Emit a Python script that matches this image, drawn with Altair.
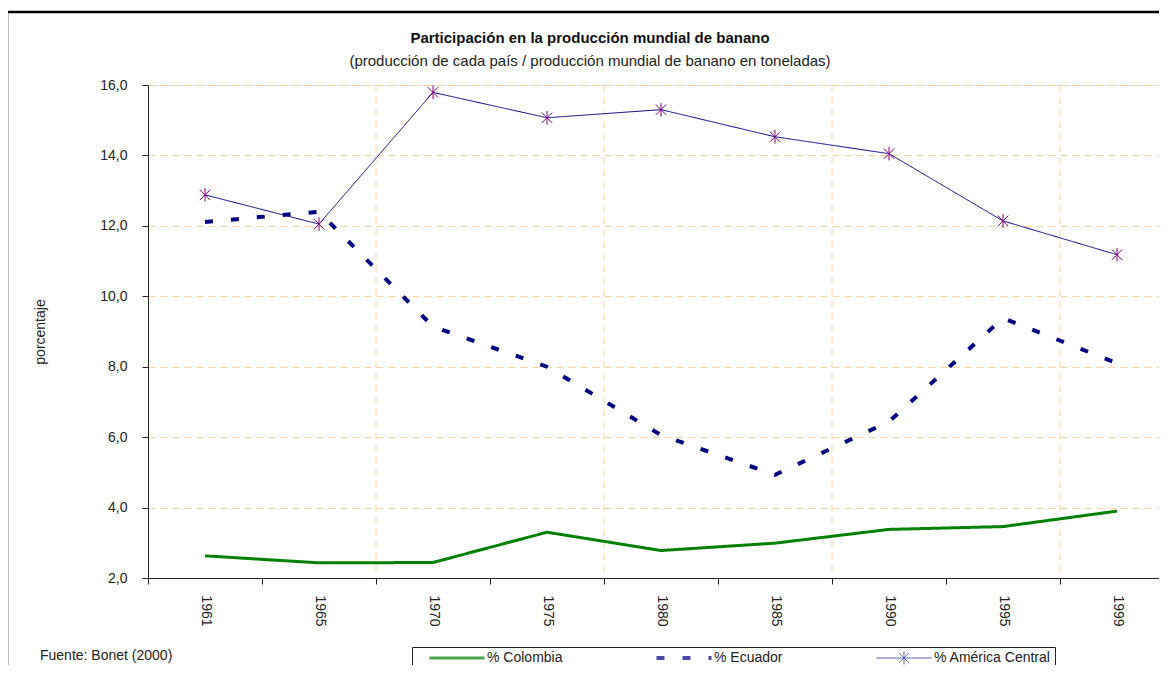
import altair as alt
import pandas as pd

years = ["1961", "1965", "1970", "1975", "1980", "1985", "1990", "1995", "1999"]
colombia = [2.63, 2.43, 2.44, 3.30, 2.78, 2.99, 3.38, 3.46, 3.90]
ecuador = [12.11, 12.40, 9.14, 8.00, 6.06, 4.93, 6.44, 9.38, 8.10]
america_central = [12.88, 12.05, 15.79, 15.07, 15.30, 14.53, 14.05, 12.14, 11.18]

series_names = ["% Colombia", "% Ecuador", "% América Central"]
series_colors = ["#008000", "#000080", "#000080"]
series_dash = [[1, 0], [8, 18], [1, 0]]
series_width = [3, 4, 1]
grid_years = ["1965", "1975", "1985", "1995"]
y_ticks = [2, 4, 6, 8, 10, 12, 14, 16]

title_text = "Participación en la producción  mundial de banano"
subtitle_text = "(producción de cada país / producción mundial de banano en toneladas)"
source_text = "Fuente: Bonet (2000)"

rows = []
for name, vals in zip(series_names, [colombia, ecuador, america_central]):
    for yr, v in zip(years, vals):
        rows.append({"año": yr, "serie": name, "valor": v})
df = pd.DataFrame(rows)

FONT = "Liberation Sans"
STAR = "M-1,-1L1,1M-1,1L1,-1M0,-1.3L0,1.3"
LEG_LINE = "M-5.5,0L5.5,0"
LEG_STAR = "M-5.5,0L5.5,0M-1,-1L1,1M-1,1L1,-1M0,-1.3L0,1.3"
series_shapes = [LEG_LINE, LEG_LINE, LEG_STAR]

x_scale = alt.Scale(domain=years, range=[0, 1026], paddingInner=0, paddingOuter=0)
y_scale = alt.Scale(domain=[2, 16], nice=False, zero=False)

legend = alt.Legend(
    title=None,
    orient="none",
    legendX=264,
    legendY=562,
    direction="horizontal",
    strokeColor="#222222",
    fillColor="white",
    padding=4,
    symbolSize=100,
    symbolOffset=34,
    labelFont=FONT,
    labelFontSize=14,
    labelColor="#222222",
    labelOffset=23,
    columnPadding=80,
    gridAlign="none",
)

base = alt.Chart(df)

frame = alt.Chart(alt.Data(values=[{"a": 1}])).mark_rect(
    fill=None, stroke="black", strokeWidth=2.5
).encode(
    x=alt.value(-141), x2=alt.value(1200), y=alt.value(-73), y2=alt.value(700)
)

vgrid = alt.Chart(pd.DataFrame({"año": grid_years})).mark_rule(
    color="#FFD0A0", strokeDash=[7, 5], strokeWidth=1
).encode(
    x=alt.X("año:O", scale=x_scale, bandPosition=1)
)

color_enc = alt.Color(
    "serie:N",
    scale=alt.Scale(domain=series_names, range=series_colors),
    sort=series_names,
    legend=legend,
)
dash_enc = alt.StrokeDash(
    "serie:N", scale=alt.Scale(domain=series_names, range=series_dash), sort=series_names, legend=legend
)
width_enc = alt.StrokeWidth(
    "serie:N",
    scale=alt.Scale(type="ordinal", domain=series_names, range=series_width),
    sort=series_names,
    legend=legend,
)

lines = base.mark_line().encode(
    x=alt.X(
        "año:O",
        scale=x_scale,
        axis=alt.Axis(
            title=None,
            labelAngle=90,
            labelAlign="left",
            labelBaseline="middle",
            labelFont=FONT,
            labelFontSize=14,
            labelColor="#222222",
            labelPadding=11,
            tickBand="extent",
            tickSize=6,
            tickColor="#222222",
            domainColor="#222222",
            grid=False,
        ),
    ),
    y=alt.Y(
        "valor:Q",
        scale=y_scale,
        axis=alt.Axis(
            title="porcentaje",
            titleFont=FONT,
            titleFontSize=14,
            titleFontWeight="normal",
            titleColor="#222222",
            titlePadding=52,
            values=y_ticks,
            labelExpr="replace(format(datum.value, '.1f'), '.', ',')",
            labelFont=FONT,
            labelFontSize=14,
            labelColor="#222222",
            labelPadding=15,
            tickSize=6,
            tickColor="#222222",
            domainColor="#222222",
            grid=True,
            gridColor="#FFD0A0",
            gridDash=[7, 5],
        ),
    ),
    color=color_enc,
    strokeDash=dash_enc,
    strokeWidth=width_enc,
)

# empty layer that only contributes the legend symbol shapes
legend_shapes = base.transform_filter("false").mark_point(filled=False).encode(
    x=alt.X("año:O", scale=x_scale),
    y=alt.Y("valor:Q", scale=y_scale),
    color=color_enc,
    strokeDash=dash_enc,
    strokeWidth=width_enc,
    shape=alt.Shape(
        "serie:N", scale=alt.Scale(domain=series_names, range=series_shapes), sort=series_names, legend=legend
    ),
)

stars = alt.Chart(df[df["serie"] == "% América Central"]).mark_point(
    shape=STAR, size=110, color="#800080", strokeWidth=1, filled=False, opacity=1
).encode(
    x=alt.X("año:O", scale=x_scale),
    y=alt.Y("valor:Q", scale=y_scale),
)

title_mark = alt.Chart(alt.Data(values=[{"t": title_text}])).mark_text(
    align="center", baseline="alphabetic", font=FONT, fontSize=15, fontWeight="bold", color="#111111"
).encode(text="t:N", x=alt.value(442), y=alt.value(-42))

subtitle_mark = alt.Chart(alt.Data(values=[{"t": subtitle_text}])).mark_text(
    align="center", baseline="alphabetic", font=FONT, fontSize=15, color="#222222"
).encode(text="t:N", x=alt.value(442), y=alt.value(-19))

fuente = alt.Chart(alt.Data(values=[{"t": source_text}])).mark_text(
    align="left", baseline="alphabetic", font=FONT, fontSize=14, color="#222222"
).encode(text="t:N", x=alt.value(-108), y=alt.value(575))

chart = alt.layer(
    frame, vgrid, lines, legend_shapes, stars, title_mark, subtitle_mark, fuente
).properties(
    width=1011,
    height=493,
    padding={"left": 140, "top": 77, "right": 0, "bottom": 87},
    autosize=alt.AutoSizeParams(type="none"),
).configure_view(stroke=None).configure(background="white")

chart.save("out.html", embed_options={"renderer": "svg", "actions": False})
